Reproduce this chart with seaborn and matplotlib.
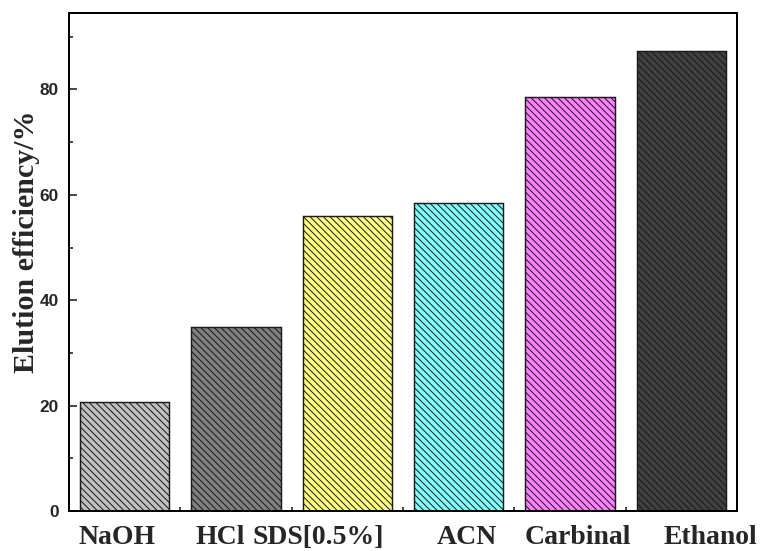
import matplotlib
matplotlib.use("Agg")
import matplotlib.pyplot as plt
import matplotlib.transforms as mtransforms
import seaborn as sns
import pandas as pd
from matplotlib.ticker import MultipleLocator, FixedLocator

categories = ["NaOH", "HCl", "SDS[0.5%]", "ACN", "Carbinal", "Ethanol"]
values = [20.6, 35.0, 56.0, 58.4, 78.5, 87.3]
colors = ["#C0C0C0", "#808080", "#FFFF80", "#80FFFF", "#FF80FF", "#404040"]
y_ticks = [0, 20, 40, 60, 80]
# horizontal shift (pixels) of each category label, as placed in the original
label_shift_px = [-8, -16, -29, 8, 8, 29]

sns.set_style("ticks")
plt.rcParams["hatch.linewidth"] = 0.9
plt.rcParams["hatch.color"] = "black"

DPI = 80
fig = plt.figure(figsize=(766 / DPI, 551 / DPI), dpi=DPI)
ax = fig.add_axes([69 / 766, 40 / 551, (737 - 69) / 766, (511 - 13) / 551])

df = pd.DataFrame({"cat": categories, "val": values})
sns.barplot(data=df, x="cat", y="val", hue="cat", palette=colors, legend=False,
            width=0.8, edgecolor="#1a1a1a", linewidth=1.3, ax=ax, saturation=1)
for p in ax.patches:
    p.set_hatch("\\\\\\\\")

ax.set_xlim(-0.5, len(categories) - 0.5)
ax.set_ylim(0, 94.5)
ax.yaxis.set_major_locator(FixedLocator(y_ticks))
ax.yaxis.set_minor_locator(MultipleLocator(10))
ax.xaxis.set_minor_locator(FixedLocator([i + 0.5 for i in range(len(categories) - 1)]))

ax.tick_params(axis="both", which="major", direction="in", length=7, width=1.5,
               top=False, right=False)
ax.tick_params(axis="both", which="minor", direction="in", length=4, width=1.5,
               top=False, right=False)
ax.tick_params(axis="y", which="major", pad=9)
ax.tick_params(axis="x", which="major", pad=12.5)

for lab in ax.get_yticklabels():
    lab.set_fontfamily("Liberation Sans")
    lab.set_fontweight("bold")
    lab.set_fontsize(15.5)
for lab, dx in zip(ax.get_xticklabels(), label_shift_px):
    lab.set_fontfamily("Liberation Serif")
    lab.set_fontweight("bold")
    lab.set_fontsize(25)
    lab.set_transform(lab.get_transform() +
                      mtransforms.ScaledTranslation(dx / DPI, 0, fig.dpi_scale_trans))

ax.set_xlabel("")
ax.set_ylabel("Elution efficiency/%", fontfamily="Liberation Serif",
              fontweight="bold", fontsize=27)
ax.yaxis.set_label_coords(-0.044, 0.54)

for s in ax.spines.values():
    s.set_linewidth(1.8)
    s.set_color("black")

fig.savefig("out.png", dpi=DPI)
